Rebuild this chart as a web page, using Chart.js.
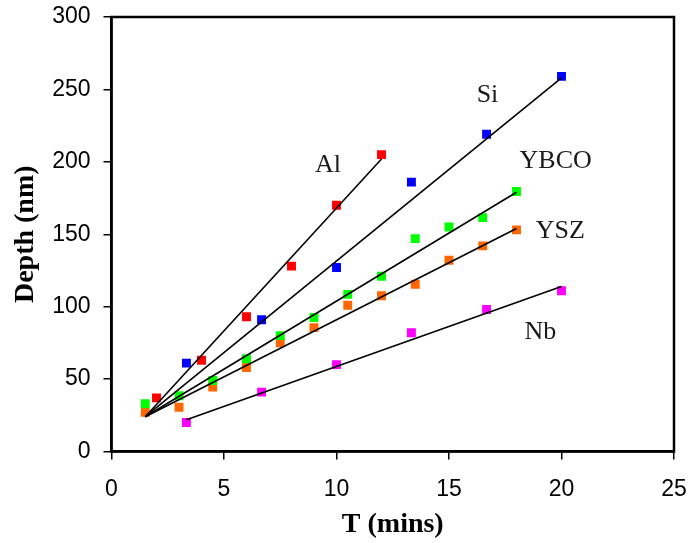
<!DOCTYPE html>
<html>
<head>
<meta charset="utf-8">
<script src="https://cdn.jsdelivr.net/npm/chart.js@4/dist/chart.umd.min.js"></script>
<style>
  html, body { margin: 0; padding: 0; background: #fff; }
  #wrap { width: 688px; height: 543px; }
</style>
</head>
<body>
<div id="wrap"><canvas id="grafico" width="688" height="543"></canvas></div>
<script>
// Tempos de exposição (min) e profundidades medidas (nm)
const tempoAl = [2, 4, 6, 8, 10, 12];
const profAl = [37, 63, 93, 128, 170, 205];

const tempoSi = [3.33, 6.67, 10, 13.33, 16.67, 20];
const profSi = [61, 91, 127, 186, 219, 259];

const tempoYBCO = [1.5, 3, 4.5, 6, 7.5, 9, 10.5, 12, 13.5, 15, 16.5, 18];
const profYBCO = [33, 38.5, 49, 64, 80, 92.5, 108.5, 121, 147, 155, 161.5, 179.5];

const tempoYSZ = [1.5, 3, 4.5, 6, 7.5, 9, 10.5, 12, 13.5, 15, 16.5, 18];
const profYSZ = [27, 30.5, 44.5, 58, 75, 85.5, 101, 107.5, 115.5, 132, 142, 153];

const tempoNb = [3.33, 6.67, 10, 13.33, 16.67, 20];
const profNb = [20, 41, 60, 82, 98, 111];

// Retas de ajuste: extremos [início, fim]
const retaTempoAl = [1.5, 12];
const retaProfAl = [24, 202];
const retaTempoSi = [1.5, 20];
const retaProfSi = [24, 258];
const retaTempoYBCO = [1.5, 18];
const retaProfYBCO = [24, 179];
const retaTempoYSZ = [1.5, 18];
const retaProfYSZ = [24, 154];
const retaTempoNb = [3.33, 20];
const retaProfNb = [22, 114];

// Ticks dos eixos
const ticksX = [0, 5, 10, 15, 20, 25];
const ticksY = [0, 50, 100, 150, 200, 250, 300];

// Rótulos de cada material
const nomes = ["Al", "Si", "YBCO", "YSZ", "Nb"];
const rotuloX = [9.62, 16.71, 19.74, 19.95, 19.06];
const rotuloY = [193.2, 241.5, 195.5, 147.2, 77.6];

const pontos = (xs, ys) => xs.map((x, i) => ({ x: x, y: ys[i] }));

function serie(label, xs, ys, cor) {
  return {
    label: label,
    data: pontos(xs, ys),
    showLine: false,
    pointStyle: 'rect',
    pointRadius: 6.3,
    pointHoverRadius: 6.3,
    pointBorderWidth: 0,
    backgroundColor: cor,
    borderColor: cor,
    order: 2
  };
}

function reta(label, xs, ys) {
  return {
    label: label,
    data: pontos(xs, ys),
    showLine: true,
    pointRadius: 0,
    borderColor: '#000',
    borderWidth: 1.6,
    fill: false,
    order: 1
  };
}

// Moldura em volta da área do gráfico
const moldura = {
  id: 'moldura',
  afterDatasetsDraw(chart) {
    const { ctx, chartArea: a } = chart;
    ctx.save();
    ctx.strokeStyle = '#000';
    ctx.lineWidth = 2.5;
    ctx.strokeRect(a.left, a.top, a.right - a.left, a.bottom - a.top);
    ctx.restore();
  }
};

// Nome do material junto a cada reta
const rotulos = {
  id: 'rotulos',
  afterDatasetsDraw(chart) {
    const { ctx, scales } = chart;
    ctx.save();
    ctx.font = '26px "Liberation Serif", "Times New Roman", serif';
    ctx.fillStyle = '#1a1a1a';
    ctx.textAlign = 'center';
    ctx.textBaseline = 'alphabetic';
    nomes.forEach((nome, i) => {
      ctx.fillText(nome, scales.x.getPixelForValue(rotuloX[i]), scales.y.getPixelForValue(rotuloY[i]));
    });
    ctx.restore();
  }
};

const fonteTicks = { family: '"Liberation Sans", Arial, sans-serif', size: 23 };
const fonteTitulo = { family: '"Liberation Serif", "Times New Roman", serif', size: 28, weight: 'bold' };

new Chart(document.getElementById('grafico').getContext('2d'), {
  type: 'scatter',
  data: {
    datasets: [
      serie('Al', tempoAl, profAl, '#ff0000'),
      serie('Si', tempoSi, profSi, '#0000ff'),
      serie('YBCO', tempoYBCO, profYBCO, '#00ff00'),
      serie('YSZ', tempoYSZ, profYSZ, '#ff6600'),
      serie('Nb', tempoNb, profNb, '#ff00ff'),
      reta('Al ajuste', retaTempoAl, retaProfAl),
      reta('Si ajuste', retaTempoSi, retaProfSi),
      reta('YBCO ajuste', retaTempoYBCO, retaProfYBCO),
      reta('YSZ ajuste', retaTempoYSZ, retaProfYSZ),
      reta('Nb ajuste', retaTempoNb, retaProfNb)
    ]
  },
  options: {
    responsive: false,
    animation: false,
    devicePixelRatio: 1,
    layout: { padding: { top: 17, right: 14, left: 0, bottom: 0 } },
    plugins: {
      legend: { display: false },
      tooltip: { enabled: false }
    },
    scales: {
      x: {
        type: 'linear',
        min: 0,
        max: 25,
        afterBuildTicks: (s) => { s.ticks = ticksX.map(v => ({ value: v })); },
        afterFit: (s) => {
          s.height = 91.5;
          s.paddingLeft = 0;
          s.paddingRight = 0;
        },
        grid: { drawOnChartArea: false, drawTicks: true, tickLength: 8, color: '#000', lineWidth: 1.5 },
        border: { color: '#000', width: 2.5 },
        ticks: { font: fonteTicks, color: '#000', padding: 16, maxRotation: 0 },
        title: { display: true, text: 'T (mins)', font: fonteTitulo, color: '#000', padding: { top: 0, bottom: 1 } }
      },
      y: {
        type: 'linear',
        min: 0,
        max: 300,
        afterBuildTicks: (s) => { s.ticks = ticksY.map(v => ({ value: v })); },
        afterFit: (s) => {
          s.width = 111.5;
          s.paddingTop = 0;
          s.paddingBottom = 0;
        },
        grid: { drawOnChartArea: false, drawTicks: true, tickLength: 8, color: '#000', lineWidth: 1.5 },
        border: { color: '#000', width: 2.5 },
        ticks: { font: fonteTicks, color: '#000', padding: 13 },
        title: { display: true, text: 'Depth (nm)', font: fonteTitulo, color: '#000', padding: { top: 9, bottom: 0 } }
      }
    }
  },
  plugins: [moldura, rotulos]
});
</script>
</body>
</html>
